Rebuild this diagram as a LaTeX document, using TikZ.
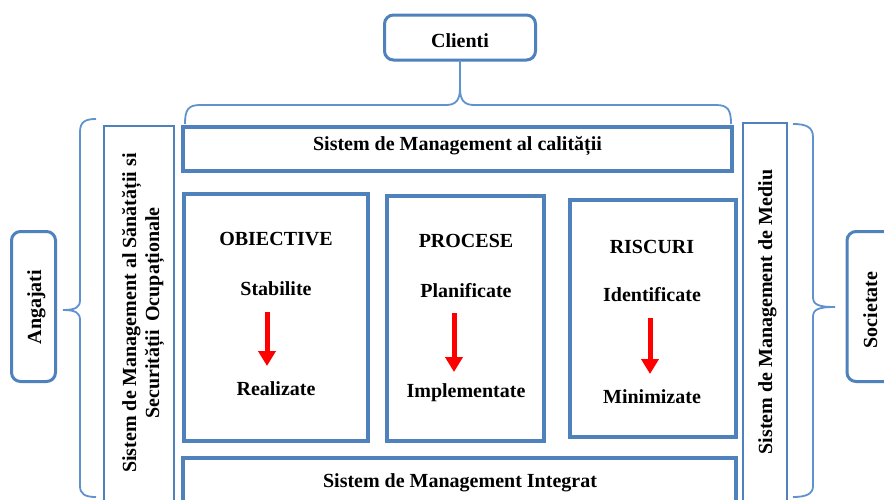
\documentclass[tikz,border=0pt]{standalone}
\usepackage{fontspec}
\setmainfont{Liberation Serif}
\usetikzlibrary{arrows.meta}
\definecolor{sblue}{RGB}{79,129,189}
\definecolor{bblue}{RGB}{96,146,206}
\begin{document}
\begin{tikzpicture}[x=1pt,y=-1pt,
  txt/.style={font=\fontsize{20}{24}\selectfont\bfseries, inner sep=0pt, anchor=base},
  rtxt/.style={txt, rotate=90},
  box/.style={draw=sblue, line width=4pt, outer sep=0pt, inner sep=0pt},
  thinbox/.style={draw=sblue, line width=2.5pt, outer sep=0pt, inner sep=0pt},
  rbox/.style={draw=sblue, line width=3pt, rounded corners=9pt, outer sep=0pt, inner sep=0pt},
  brace/.style={draw=bblue, line width=1.8pt},
  redarrow/.style={draw=red, line width=5pt, -{Triangle[width=17pt,length=15pt]}},
]
\clip (0,0) rectangle (884,499);
\fill[white] (0,0) rectangle (884,499);

% boxes
\node[rbox, minimum width=151pt, minimum height=45pt] (clienti) at (460,37.5) {};
\node[box, minimum width=549pt, minimum height=44pt] (calitate) at (457.5,149) {};
\node[box, minimum width=184pt, minimum height=247pt] (obj) at (276,317.5) {};
\node[box, minimum width=157pt, minimum height=245pt] (proc) at (465.5,318.5) {};
\node[box, minimum width=166pt, minimum height=237pt] (risc) at (653,318.5) {};
\node[box, minimum width=553pt, minimum height=62pt] (integrat) at (459.5,489) {};
\node[thinbox, minimum width=70pt, minimum height=394pt] (sso) at (139,323) {};
\node[thinbox, minimum width=44pt, minimum height=397pt] (mediu) at (765,321.5) {};
\node[rbox, minimum width=44pt, minimum height=150pt] (angajati) at (33.5,306.5) {};
\node[rbox, minimum width=46pt, minimum height=150pt] (societate) at (870,306.5) {};

% texts
\node[txt] (tclienti) at (460,47) {Clienti};
\node[txt] (tcal) at (457.5,150) {Sistem de Management al calității};
\node[txt] (tobj) at (276,245) {OBIECTIVE};
\node[txt] (tstab) at (276,295) {Stabilite};
\node[txt] (treal) at (276,395) {Realizate};
\node[txt] (tproc) at (466,247) {PROCESE};
\node[txt] (tplan) at (466,297) {Planificate};
\node[txt] (timpl) at (466,397) {Implementate};
\node[txt] (trisc) at (652,253) {RISCURI};
\node[txt] (tident) at (652,301) {Identificate};
\node[txt] (tmin) at (652,403) {Minimizate};
\node[txt] (tint) at (460,487) {Sistem de Management Integrat};
\node[rtxt] (tsso1) at (136,313) {Sistem de Management al Sănătății si};
\node[rtxt] (tsso2) at (159,313) {Securității\, Ocupaționale};
\node[rtxt] (tmed) at (772,312) {Sistem de Management de Mediu};
\node[rtxt] (tang) at (41,307) {Angajati};
\node[rtxt] (tsoc) at (877,310) {Societate};

% red arrows
\coordinate (a1s) at (267,312); \coordinate (a1e) at (267,366);
\coordinate (a2s) at (454,313); \coordinate (a2e) at (454,372);
\coordinate (a3s) at (650,318); \coordinate (a3e) at (650,374);
\draw[redarrow] (a1s) -- (a1e);
\draw[redarrow] (a2s) -- (a2e);
\draw[redarrow] (a3s) -- (a3e);

% top brace
\coordinate (ttip) at (460,88);
\draw[brace] (clienti.south) -- (ttip);
\draw[brace] (185,124) .. controls (185,110) and (188,105) .. (200,105) -- (446,105)
  .. controls (456,105) and (460,100) .. (ttip)
  .. controls (460,100) and (464,105) .. (474,105) -- (716,105)
  .. controls (728,105) and (731,110) .. (731,124);

% left brace
\coordinate (ltip) at (63,310);
\draw[brace] (96,119) .. controls (85,119) and (80,122) .. (80,132) -- (80,300)
  .. controls (80,307) and (76,310) .. (ltip)
  .. controls (76,310) and (80,313) .. (80,320) -- (80,486)
  .. controls (80,494) and (85,497) .. (96,497);

% right brace
\coordinate (rtip) at (835,307);
\draw[brace] (793,124) .. controls (806,124) and (813,127) .. (813,137) -- (813,297)
  .. controls (813,304) and (817,307) .. (rtip)
  .. controls (817,307) and (813,310) .. (813,317) -- (813,486)
  .. controls (813,494) and (806,497) .. (793,497);
\end{tikzpicture}
\end{document}
